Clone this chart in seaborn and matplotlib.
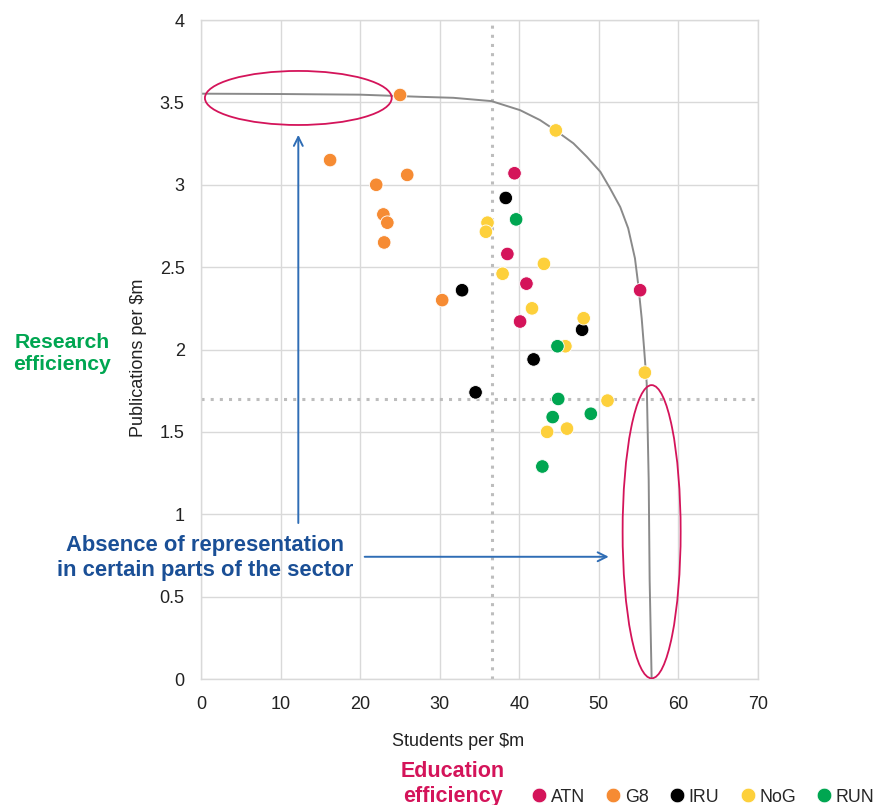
import pandas as pd
import numpy as np
import matplotlib.pyplot as plt
import seaborn as sns
from matplotlib.patches import Ellipse
from matplotlib.lines import Line2D

# students per $m / publications per $m
atn_x = [39.4, 38.5, 40.9, 55.2, 40.1]
atn_y = [3.07, 2.58, 2.40, 2.36, 2.17]
g8_x = [25.0, 16.2, 22.0, 25.9, 22.9, 23.4, 23.0, 30.3]
g8_y = [3.545, 3.15, 3.00, 3.06, 2.82, 2.77, 2.65, 2.30]
iru_x = [38.3, 32.8, 47.9, 41.8, 34.5]
iru_y = [2.92, 2.36, 2.12, 1.94, 1.74]
nog_x = [44.6, 36.0, 35.8, 43.1, 37.9, 41.6, 48.1, 45.8, 55.8, 51.1, 43.5, 46.0]
nog_y = [3.33, 2.77, 2.715, 2.52, 2.46, 2.25, 2.19, 2.02, 1.86, 1.69, 1.50, 1.52]
run_x = [39.6, 44.8, 44.9, 49.0, 44.2, 42.9]
run_y = [2.79, 2.02, 1.70, 1.61, 1.59, 1.29]

# efficiency frontier
front_x = [0, 10, 20, 27.5, 31.7, 36.5, 40.1, 42.6, 44.5, 46.8, 48.5, 50.2, 51.4, 52.7,
           53.7, 54.55, 54.97, 55.4, 55.7, 56.03, 56.28, 56.4, 56.65]
front_y = [3.553, 3.551, 3.547, 3.534, 3.528, 3.508, 3.453, 3.393, 3.332, 3.252, 3.170,
           3.079, 2.980, 2.865, 2.736, 2.554, 2.392, 2.189, 2.007, 1.795, 1.208, 0.6, 0.0]

# sector averages (dotted lines)
avg_students = 36.6
avg_pubs = 1.70

groups = ['ATN', 'G8', 'IRU', 'NoG', 'RUN']
colours = ['#d4145a', '#f68b33', '#000000', '#fdd03b', '#00a651']
xs = [atn_x, g8_x, iru_x, nog_x, run_x]
ys = [atn_y, g8_y, iru_y, nog_y, run_y]

df = pd.concat([pd.DataFrame({'Students per $m': x, 'Publications per $m': y, 'group': g})
                for g, x, y in zip(groups, xs, ys)], ignore_index=True)
palette = dict(zip(groups, colours))

sns.set_theme(style="white")
plt.rcParams['font.family'] = ['Liberation Sans Narrow', 'Liberation Sans', 'DejaVu Sans']

fig = plt.figure(figsize=(8.75, 8.05), dpi=100)
ax = fig.add_axes([0.2301, 0.1565, 0.6359, 0.8186])

grid_c = '#d9d9d9'
txt_c = '#222222'
ax.set_xlim(0, 70)
ax.set_ylim(0, 4)
ax.set_xticks(range(0, 71, 10))
ax.set_yticks(np.arange(0, 4.01, 0.5))
ax.set_yticklabels(['0', '0.5', '1', '1.5', '2', '2.5', '3', '3.5', '4'])
ax.grid(True, color=grid_c, lw=1)
ax.set_axisbelow(True)
for s in ax.spines.values():
    s.set_color(grid_c)
    s.set_linewidth(1)
ax.tick_params(length=0, labelsize=13, colors=txt_c, pad=12)

# dotted averages
ax.axvline(avg_students, color='#bdbdbd', lw=2.2, ls=(0, (1, 2)), zorder=1)
ax.axhline(avg_pubs, color='#bdbdbd', lw=2.2, ls=(0, (1, 2)), zorder=1)

# frontier
sns.lineplot(x=front_x, y=front_y, color='#8a8a8a', lw=1.4, sort=False, ax=ax, zorder=2)

sns.scatterplot(data=df, x='Students per $m', y='Publications per $m', hue='group',
                palette=palette, s=95, edgecolor='white', linewidth=0.6,
                legend=False, ax=ax, zorder=3)

# highlight ellipses
red = '#d4145a'
ax.add_patch(Ellipse((12.2, 3.527), 23.5, 0.328, fill=False, ec=red, lw=1.3, zorder=4))
ax.add_patch(Ellipse((56.65, 0.894), 7.3, 1.78, fill=False, ec=red, lw=1.3, zorder=4))

# arrows
blue = '#2f6db5'
ax.annotate('', xy=(12.2, 3.32), xytext=(12.2, 0.93),
            arrowprops=dict(arrowstyle='->', color=blue, lw=1.4, mutation_scale=16))
ax.annotate('', xy=(51.6, 0.742), xytext=(20.2, 0.742),
            arrowprops=dict(arrowstyle='->', color=blue, lw=1.4, mutation_scale=16))

ax.set_xlabel('Students per $m', fontsize=13, color=txt_c)
ax.set_ylabel('Publications per $m', fontsize=13, color=txt_c)
ax.xaxis.set_label_coords(0.461, -0.082)
ax.yaxis.set_label_coords(-0.098, 0.487)

fig.text(205 / 875, 1 - 558 / 805, 'Absence of representation\nin certain parts of the sector',
         ha='center', va='center', color='#1a4f96', fontsize=15.8, fontweight='bold',
         linespacing=1.2)
fig.text(62 / 875, 1 - 353 / 805, 'Research\nefficiency', ha='center', va='center',
         color='#00a651', fontsize=15.2, fontweight='bold', linespacing=1.2)
fig.text(453 / 875, 1 - 784 / 805, 'Education\nefficiency', ha='center', va='center',
         color=red, fontsize=15.5, fontweight='bold', linespacing=1.2)

handles = [Line2D([0], [0], marker='o', ls='', markersize=10.5, markerfacecolor=c,
                  markeredgecolor='white', markeredgewidth=0.5) for c in colours]
fig.legend(handles, groups, loc='center left', bbox_to_anchor=(531 / 875, 1 - 797 / 805),
           ncol=5, frameon=False, fontsize=12.8, handletextpad=0.2, columnspacing=1.15,
           borderpad=0, borderaxespad=0, handlelength=0.9)

fig.savefig('out.png', dpi=100)
